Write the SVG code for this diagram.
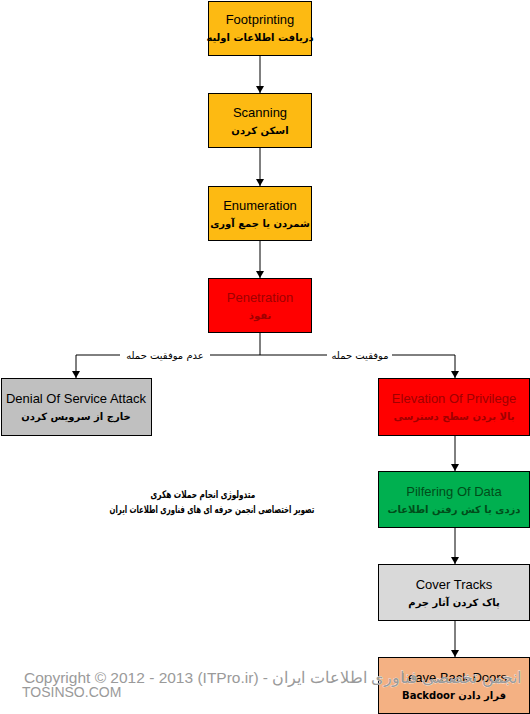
<svg xmlns="http://www.w3.org/2000/svg" width="530" height="714" viewBox="0 0 530 714">
<style>
.box{stroke:#000;stroke-width:1}
.en{font-family:"Liberation Sans",Arial,sans-serif;font-size:13px;text-anchor:middle}
.fa{font-family:"DejaVu Sans","Noto Sans",sans-serif;font-size:10px;font-weight:bold;text-anchor:middle}
.lbl{font-family:"DejaVu Sans","Noto Sans",sans-serif;font-size:10px;text-anchor:middle}
.ln{stroke:#000;stroke-width:1;fill:none}
.wm{font-family:"Liberation Sans",Arial,sans-serif;font-size:15.5px;fill:#9a9a9a;stroke:#fff;stroke-width:0.6;paint-order:stroke}
</style>
<rect width="530" height="714" fill="#fff"/>
<g id="connectors">
<line class="ln" x1="260" y1="56" x2="260" y2="93"/>
<path d="M256,86 L264,86 L260,93 z"/>
<line class="ln" x1="260" y1="148" x2="260" y2="186"/>
<path d="M256,179 L264,179 L260,186 z"/>
<line class="ln" x1="260" y1="241" x2="260" y2="278"/>
<path d="M256,271 L264,271 L260,278 z"/>
<line class="ln" x1="260" y1="333" x2="260" y2="355"/>
<path class="ln" d="M260,355 H76 V378"/>
<path d="M72,371 L80,371 L76,378 z"/>
<path class="ln" d="M260,355 H455 V378"/>
<path d="M451,371 L459,371 L455,378 z"/>
<line class="ln" x1="455" y1="436" x2="455" y2="471"/>
<path d="M451,464 L459,464 L455,471 z"/>
<line class="ln" x1="455" y1="528" x2="455" y2="564"/>
<path d="M451,557 L459,557 L455,564 z"/>
<line class="ln" x1="455" y1="621" x2="455" y2="657"/>
<path d="M451,650 L459,650 L455,657 z"/>
<rect x="120" y="348" width="90" height="14" fill="#fff"/>
<text class="lbl" x="165" y="359" direction="rtl">عدم موفقیت حمله</text>
<rect x="327" y="348" width="65" height="14" fill="#fff"/>
<text class="lbl" x="360" y="359" direction="rtl">موفقیت حمله</text>
</g>
<g id="footprinting">
<rect class="box" x="208.5" y="1.5" width="103" height="54" fill="#FDBA12"/>
<text class="en" x="260" y="24">Footprinting</text>
<text class="fa" x="260" y="41" direction="rtl">دریافت اطلاعات اولیه</text>
</g>
<g id="scanning">
<rect class="box" x="208.5" y="93.5" width="103" height="54" fill="#FDBA12"/>
<text class="en" x="260" y="117">Scanning</text>
<text class="fa" x="260" y="134" direction="rtl">اسکن کردن</text>
</g>
<g id="enumeration">
<rect class="box" x="208.5" y="186.5" width="103" height="54" fill="#FDBA12"/>
<text class="en" x="260" y="210">Enumeration</text>
<text class="fa" x="260" y="227" direction="rtl">شمردن یا جمع آوری</text>
</g>
<g id="penetration">
<rect class="box" x="208.5" y="278.5" width="103" height="54" fill="#FF0000"/>
<text class="en" x="260" y="302" fill="#A00000">Penetration</text>
<text class="fa" x="260" y="319" fill="#A00000" direction="rtl">نفوذ</text>
</g>
<g id="denial">
<rect class="box" x="1.5" y="378.5" width="150" height="57" fill="#C0C0C0"/>
<text class="en" x="76" y="403">Denial Of Service Attack</text>
<text class="fa" x="76" y="420" direction="rtl">خارج از سرویس کردن</text>
</g>
<g id="elevation">
<rect class="box" x="378.5" y="378.5" width="151" height="57" fill="#FF0000"/>
<text class="en" x="454" y="403" fill="#A00000">Elevation Of Privilege</text>
<text class="fa" x="454" y="420" fill="#A00000" direction="rtl">بالا بردن سطح دسترسی</text>
</g>
<g id="pilfering">
<rect class="box" x="378.5" y="471.5" width="151" height="56" fill="#00B050"/>
<text class="en" x="454" y="496" fill="#004D1A">Pilfering Of Data</text>
<text class="fa" x="454" y="513" fill="#004D1A" direction="rtl">دزدی یا کش رفتن اطلاعات</text>
</g>
<g id="cover">
<rect class="box" x="378.5" y="564.5" width="151" height="56" fill="#D9D9D9"/>
<text class="en" x="454" y="589">Cover Tracks</text>
<text class="fa" x="454" y="606" direction="rtl">پاک کردن آثار جرم</text>
</g>
<g id="backdoor">
<rect class="box" x="378.5" y="657.5" width="151" height="56" fill="#F4B183"/>
<text class="en" x="454" y="682">Leave Back Doors</text>
<text class="fa" x="454" y="699" direction="rtl">قرار دادن Backdoor</text>
</g>
<g id="caption">
<text class="fa" transform="translate(203,498) scale(0.7,1)" x="0" y="0" style="font-size:10.5px" direction="rtl">متدولوژی انجام حملات هکری</text>
<text class="fa" transform="translate(212,513) scale(0.66,1)" x="0" y="0" style="font-size:10.5px" direction="rtl">تصویر اختصاصی انجمن حرفه ای های فناوری اطلاعات ایران</text>
</g>
<g id="watermark">
<text class="wm" x="24" y="683">Copyright © 2012 - 2013 (ITPro.ir) - <tspan direction="rtl" unicode-bidi="embed">انجمن تخصصی فناوری اطلاعات ایران</tspan></text>
<text class="wm" x="22" y="697" style="font-size:14px">TOSINSO.COM</text>
</g>
</svg>
